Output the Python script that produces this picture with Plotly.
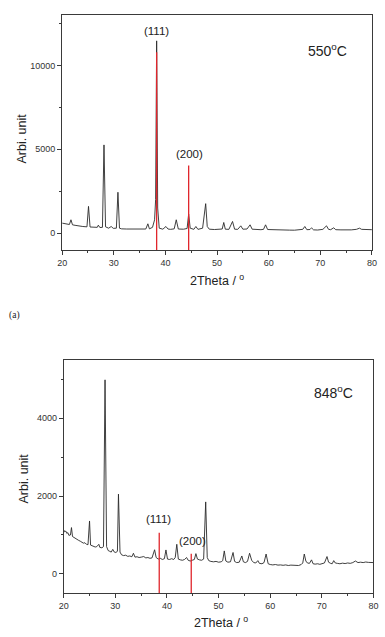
import plotly.graph_objects as go

# ---------------- data ----------------
theta_550 = [20.0, 20.5, 21.0, 21.4, 21.7, 22.0, 22.5, 23.0, 24.0, 24.8, 25.1, 25.4, 26.0, 26.8, 27.0, 27.3,
             27.8, 28.1, 28.4, 29.0, 29.5, 29.9, 30.5, 30.8, 31.1, 31.5, 32.5, 33.5, 34.5, 35.5, 36.2, 36.6,
             36.9, 37.5, 37.9, 38.1, 38.3, 38.5, 38.8, 39.5, 40.1, 40.5, 41.0, 41.7, 42.1, 42.5, 43.5, 44.2,
             44.5, 44.8, 45.5, 45.9, 46.3, 47.2, 47.5, 47.8, 48.1, 48.5, 49.5, 50.5, 51.0, 51.3, 51.6, 52.3,
             53.0, 53.4, 54.0, 54.6, 55.0, 55.8, 56.4, 56.8, 57.5, 58.5, 59.0, 59.4, 59.8, 61.0, 62.0, 63.0,
             64.0, 65.0, 66.0, 66.6, 67.0, 67.4, 68.0, 68.3, 68.7, 69.5, 70.5, 71.2, 71.6, 72.0, 72.6, 73.0,
             74.0, 75.0, 76.0, 77.0, 77.6, 78.0, 79.0, 80.0]
counts_550 = [600, 570, 540, 520, 800, 500, 470, 440, 400, 380, 1600, 370, 360, 350, 480, 340,
              350, 5260, 380, 300, 400, 290, 300, 2440, 300, 260, 250, 240, 240, 240, 250, 560,
              260, 350, 800, 2000, 11460, 1500, 300, 240, 400, 250, 230, 260, 800, 250, 240, 280,
              1140, 300, 230, 400, 230, 300, 1000, 1760, 400, 240, 220, 230, 250, 640, 240, 230,
              700, 240, 230, 440, 240, 250, 500, 240, 220, 210, 230, 500, 220, 200, 190, 180,
              185, 180, 190, 230, 400, 210, 220, 320, 200, 190, 230, 440, 230, 210, 320, 210,
              200, 190, 200, 230, 300, 230, 220, 210]

theta_848 = [20.0, 20.2, 20.4, 20.6, 20.8, 21.0, 21.3, 21.5, 21.7, 22.0, 22.3, 22.6, 22.9, 23.2, 23.5, 23.8,
             24.1, 24.4, 24.7, 25.0, 25.2, 25.5, 25.8, 26.1, 26.4, 26.8, 27.0, 27.4, 27.7, 28.0, 28.3, 28.6,
             28.9, 29.2, 29.5, 29.8, 30.1, 30.4, 30.6, 30.9, 31.2, 31.6, 32.0, 32.4, 32.8, 33.2, 33.5, 33.8,
             34.2, 34.6, 35.0, 35.5, 35.9, 36.3, 36.7, 37.1, 37.6, 37.9, 38.3, 38.7, 39.1, 39.5, 39.8, 40.1,
             40.5, 40.9, 41.3, 41.6, 41.9, 42.2, 42.6, 43.0, 43.4, 43.8, 44.1, 44.5, 44.9, 45.3, 45.6, 45.9,
             46.3, 46.7, 47.1, 47.5, 47.8, 48.1, 48.5, 49.0, 49.5, 50.0, 50.5, 50.8, 51.1, 51.4, 51.8, 52.3,
             52.8, 53.1, 53.5, 54.0, 54.5, 54.8, 55.2, 55.6, 56.0, 56.4, 56.8, 57.2, 57.6, 57.9, 58.4, 58.8,
             59.2, 59.6, 60.0, 60.5, 61.0, 61.5, 62.0, 62.5, 63.0, 63.5, 64.0, 64.5, 65.0, 65.5, 66.0, 66.3,
             66.6, 66.9, 67.2, 67.6, 68.0, 68.3, 68.7, 69.2, 69.6, 70.0, 70.5, 71.0, 71.3, 71.7, 72.0, 72.3,
             72.6, 73.0, 73.5, 74.0, 74.5, 75.0, 75.5, 76.0, 76.5, 77.0, 77.5, 78.0, 78.5, 79.0, 79.5, 80.0]
counts_848 = [1130, 1080, 1100, 1040, 1060, 990, 1000, 1190, 960, 930, 900, 880, 860, 840, 820, 790,
              800, 760, 750, 1360, 740, 720, 700, 690, 700, 760, 680, 670, 700, 4990, 700, 600,
              580, 560, 630, 560, 550, 580, 2050, 560, 490, 470, 480, 450, 460, 440, 530, 430,
              440, 420, 430, 445, 410, 420, 400, 410, 620, 420, 380, 400, 370, 390, 615, 380,
              370, 390, 370, 420, 760, 380, 360, 350, 370, 420, 350, 330, 350, 370, 520, 380,
              360, 350, 380, 1850, 420, 340, 320, 310, 320, 300, 310, 340, 590, 330, 300, 310,
              550, 320, 290, 300, 460, 310, 290, 320, 530, 350, 290, 280, 340, 270, 260, 290,
              510, 260, 240, 230, 240, 225, 230, 220, 230, 215, 225, 220, 230, 215, 240, 280,
              510, 330, 280, 270, 360, 260, 250, 260, 245, 260, 280, 445, 300, 270, 260, 340,
              280, 270, 260, 275, 265, 280, 270, 290, 330, 290, 300, 290, 305, 295, 300, 290]

# reference reflections (position, height)
ref_550_pos = [38.3, 44.5]
ref_550_h = [10780, 4030]
ref_848_pos = [38.5, 44.7]
ref_848_h = [1060, 515]
ref_labels = ["(111)", "(200)"]

x_range = [20, 80]
y1_range = [-1000, 13000]
y2_range = [-500, 5500]

W, H = 385, 637
LINE = "#2a2a2a"
RED = "#e0262c"
FRAME = "#3a3a3a"
FONT = "Liberation Sans, Arial, sans-serif"


def px(x):
    return x / W


def py(y):
    return 1 - y / H


fig = go.Figure()
fig.add_trace(go.Scatter(x=theta_550, y=counts_550, mode="lines", line=dict(color=LINE, width=0.9),
                         xaxis="x", yaxis="y", showlegend=False))
fig.add_trace(go.Scatter(x=theta_848, y=counts_848, mode="lines", line=dict(color=LINE, width=0.9),
                         xaxis="x2", yaxis="y2", showlegend=False))

for p, h in zip(ref_550_pos, ref_550_h):
    fig.add_trace(go.Scatter(x=[p, p], y=[y1_range[0], h], mode="lines", line=dict(color=RED, width=1.3),
                             xaxis="x", yaxis="y", showlegend=False))
for p, h in zip(ref_848_pos, ref_848_h):
    fig.add_trace(go.Scatter(x=[p, p], y=[y2_range[0], h], mode="lines", line=dict(color=RED, width=1.3),
                             xaxis="x2", yaxis="y2", showlegend=False))

axis_common = dict(showline=True, linecolor=FRAME, linewidth=1, mirror=True, ticks="outside",
                   ticklen=4, tickwidth=1, tickcolor=FRAME, showgrid=False, zeroline=False,
                   tickformat="d",
                   tickfont=dict(family=FONT, size=9, color="#333"))

fig.update_layout(
    width=W, height=H, margin=dict(l=0, r=0, t=0, b=0),
    paper_bgcolor="white", plot_bgcolor="white",
    xaxis=dict(domain=[px(58.7), px(376.7)], anchor="y", range=x_range, dtick=10,
               minor=dict(ticks="outside", dtick=5, ticklen=2, tickcolor=FRAME), **axis_common),
    yaxis=dict(domain=[py(250), py(15)], anchor="x", range=y1_range, tickvals=[0, 5000, 10000],
               minor=dict(ticks="outside", tickvals=[2500, 7500, 12500], ticklen=2, tickcolor=FRAME),
               **axis_common),
    xaxis2=dict(domain=[px(60.3), px(378.3)], anchor="y2", range=x_range, dtick=10,
                minor=dict(ticks="outside", dtick=5, ticklen=2, tickcolor=FRAME), **axis_common),
    yaxis2=dict(domain=[py(593.3), py(360)], anchor="x2", range=y2_range, tickvals=[0, 2000, 4000],
                minor=dict(ticks="outside", tickvals=[1000, 3000, 5000], ticklen=2, tickcolor=FRAME),
                **axis_common),
)

ann = []
# peak labels
ann.append(dict(x=38.3, y=12050, xref="x", yref="y", text=ref_labels[0]))
ann.append(dict(x=44.6, y=4690, xref="x", yref="y", text=ref_labels[1]))
ann.append(dict(x=38.4, y=1410, xref="x2", yref="y2", text=ref_labels[0]))
ann.append(dict(x=44.85, y=854, xref="x2", yref="y2", text=ref_labels[1]))
for a in ann:
    a.update(font=dict(family=FONT, size=11.5, color="#222"))
# temperatures
ann.append(dict(x=71.4, y=10916, xref="x", yref="y", text="550<sup>o</sup>C",
                font=dict(family=FONT, size=14, color="#222")))
ann.append(dict(x=72.2, y=4674, xref="x2", yref="y2", text="848<sup>o</sup>C",
                font=dict(family=FONT, size=14, color="#222")))
# axis titles
for (xx, yy) in [(217.8, 280), (222, 621.7)]:
    ann.append(dict(x=px(xx), y=py(yy), xref="paper", yref="paper", text="2Theta / <sup>o</sup>",
                    font=dict(family=FONT, size=12.5, color="#222")))
for (xx, yy) in [(17, 139), (19, 479)]:
    ann.append(dict(x=px(xx), y=py(yy), xref="paper", yref="paper", text="Arbi. unit", textangle=-90,
                    font=dict(family=FONT, size=12.5, color="#222")))
# panel label
ann.append(dict(x=px(10), y=py(315), xref="paper", yref="paper", text="(a)",
                font=dict(family="Liberation Serif, Times New Roman, serif", size=9.5, color="#222")))
for a in ann:
    a.update(showarrow=False, xanchor="center", yanchor="middle")
fig.update_layout(annotations=ann)

fig.write_html("out.html")
